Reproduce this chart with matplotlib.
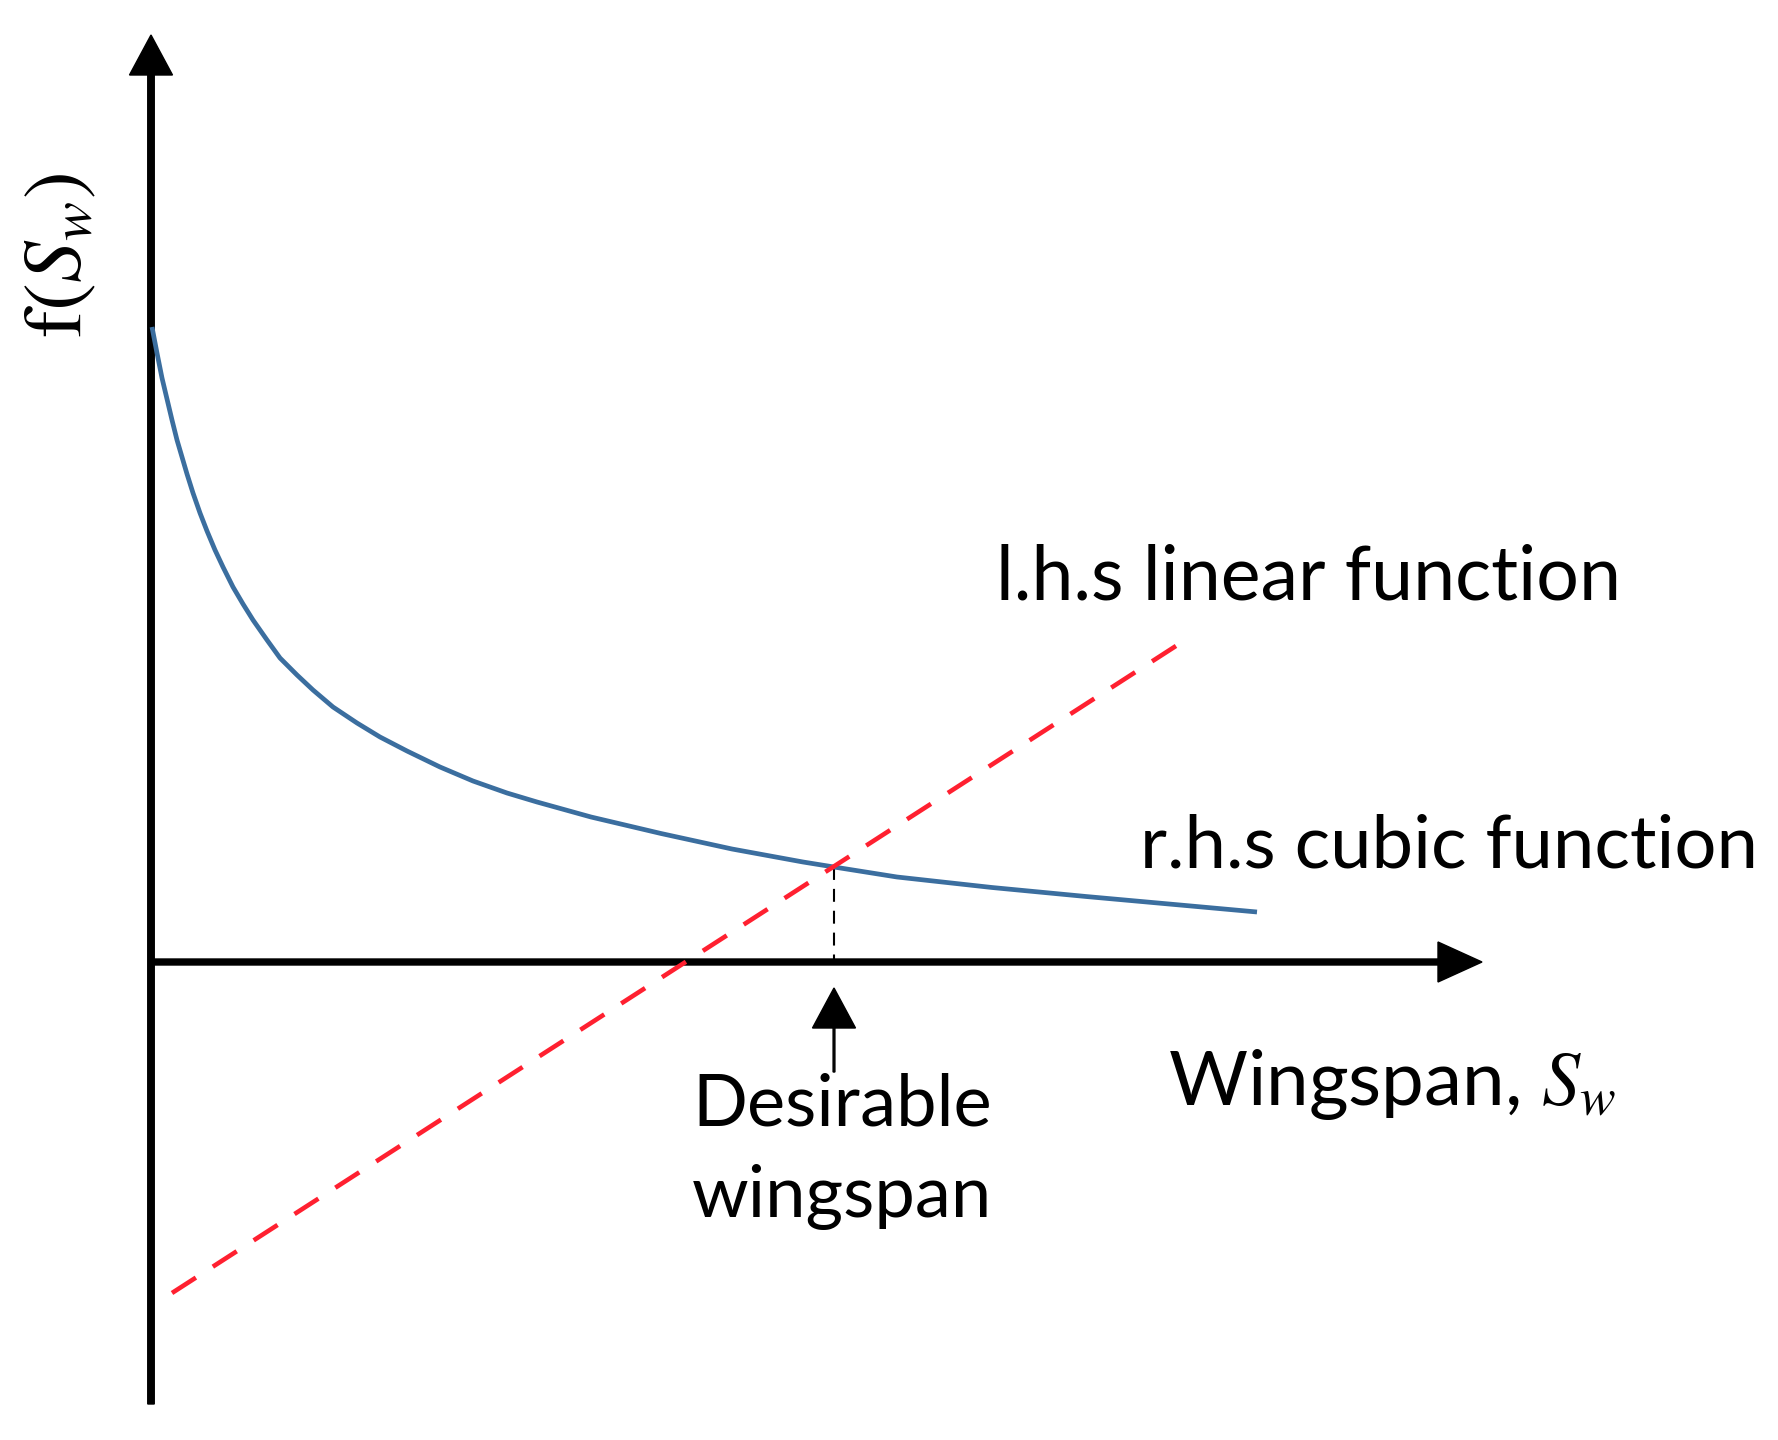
import numpy as np
import matplotlib
matplotlib.use("Agg")
import matplotlib.pyplot as plt

# r.h.s cubic function (blue curve)
rhs_x = [0.01, 0.06, 0.11, 0.16, 0.21, 0.26, 0.31, 0.36, 0.42, 0.49, 0.56,
         0.64, 0.72, 0.82, 0.92, 1.02, 1.16, 1.29, 1.46, 1.62, 1.82, 2.06,
         2.29, 2.56, 2.89, 3.22, 3.56, 3.86, 4.40, 5.10, 5.81, 6.52, 6.83,
         7.46, 8.41, 9.35, 10.29, 11.06]
rhs_y = [6.35, 6.09, 5.84, 5.63, 5.42, 5.22, 5.05, 4.88, 4.69, 4.49, 4.31,
         4.12, 3.95, 3.75, 3.58, 3.42, 3.22, 3.04, 2.87, 2.72, 2.55, 2.39,
         2.25, 2.11, 1.95, 1.81, 1.69, 1.60, 1.45, 1.285, 1.13, 1.00, 0.95,
         0.85, 0.745, 0.655, 0.57, 0.50]

# l.h.s linear function (red dashed line)
lhs_x = [0.21, 10.28]
lhs_y = [-3.31, 3.18]

# desirable wingspan (intersection)
sol_x = 6.83
sol_y = 0.95

# axis extents
x_axis_end = 13.31
y_axis_top = 9.27
y_axis_bottom = -4.42

plt.rcParams['font.family'] = ['Lato', 'DejaVu Sans']
plt.rcParams['mathtext.fontset'] = 'stix'

fig = plt.figure(figsize=(17.78, 14.4), dpi=100)
ax = fig.add_axes([0, 0, 1, 1])
ax.set_xlim(-1.51, 16.27)
ax.set_ylim(-4.78, 9.62)
ax.axis("off")

# axes with arrow heads
ax.arrow(0, y_axis_bottom, 0, y_axis_top - y_axis_bottom, width=0.065,
         head_width=0.43, head_length=0.40, length_includes_head=True,
         color="black", zorder=3)
ax.arrow(0, 0, x_axis_end, 0, width=0.06, head_width=0.40, head_length=0.44,
         length_includes_head=True, color="black", zorder=3)

# curves
ax.plot(rhs_x, rhs_y, color="#3b6e9f", lw=3.4, solid_joinstyle="round",
        solid_capstyle="butt", zorder=4)
ax.plot(lhs_x, lhs_y, color="#ff2030", lw=3.3, dashes=(6.2, 4.4), zorder=4)

# vertical dashed drop line and arrow to desirable wingspan
ax.plot([sol_x, sol_x], [sol_y, 0], color="black", lw=1.5, dashes=(6.2, 4.3), zorder=2)
ax.arrow(sol_x, -1.10, 0, 0.84, width=0.018, head_width=0.43, head_length=0.40,
         length_includes_head=True, color="black", zorder=3)

renderer = fig.canvas.get_renderer()


def fit(t, target_w):
    w = t.get_window_extent(renderer).width
    t.set_fontsize(t.get_fontsize() * target_w / w)


t1 = ax.text(8.45, 3.62, "l.h.s linear function", fontsize=52, va="baseline", ha="left")
fit(t1, 626)
t2 = ax.text(9.89, 0.94, "r.h.s cubic function", fontsize=52, va="baseline", ha="left")
fit(t2, 618)
t3 = ax.text(10.17, -1.43, "Wingspan, $S_w$", fontsize=52, va="baseline", ha="left")
fit(t3, 448)
t4 = ax.text(6.91, -1.63, "Desirable", fontsize=52, va="baseline", ha="center")
fit(t4, 300)
t5 = ax.text(6.91, -2.55, "wingspan", fontsize=t4.get_fontsize(), va="baseline",
             ha="center")
t6 = ax.text(-0.91, 7.07, r"$\mathrm{f}(S_w)$", fontsize=60, rotation=90,
             va="center", ha="center")

fig.savefig("out.png", dpi=100, facecolor="white")
